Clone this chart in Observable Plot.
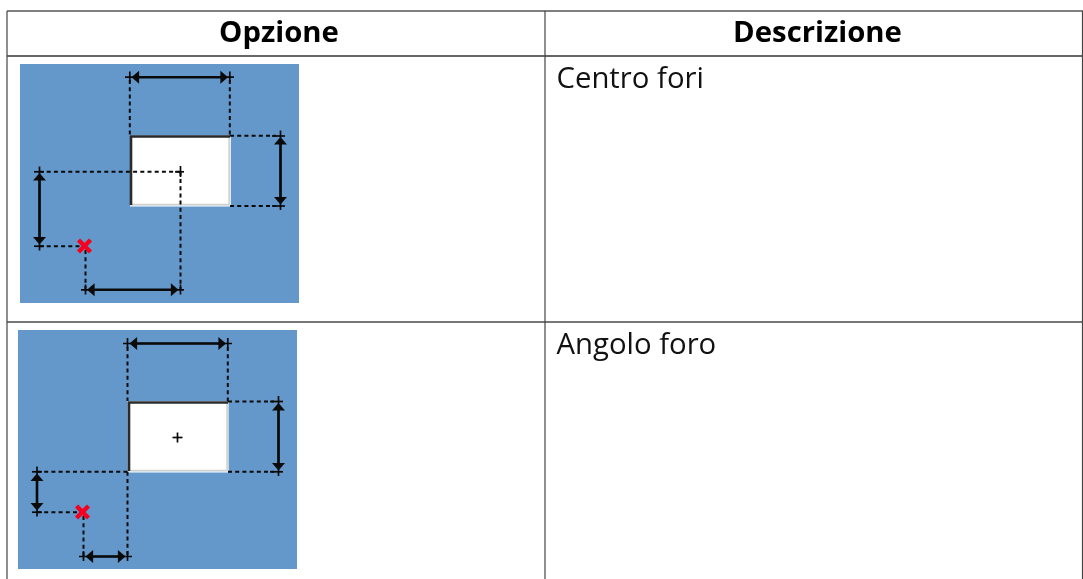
<!DOCTYPE html>
<html>
<head>
<meta charset="utf-8">
<script src="https://cdn.jsdelivr.net/npm/d3@7"></script>
<script src="https://cdn.jsdelivr.net/npm/@observablehq/plot@0.6"></script>
<style>
html,body{margin:0;padding:0;background:#fff}
svg{display:block}
svg g[aria-label="link"], svg g[aria-label="dot"]{filter:blur(0.3px)}
</style>
</head>
<body>
<div id="chart"></div>
<script>
// Table
const headers = [{label:"Opzione", x:278.5, y:32},{label:"Descrizione", x:817, y:32}];
const descriptions = [{label:"Centro fori", x:556, y:78},{label:"Angolo foro", x:556, y:344}];
const tableRows = [{y:11,c:"#555",w:1.3},{y:56,c:"#333",w:1.3},{y:322,c:"#777",w:1.8}];
const tableCols = [{x:7},{x:545},{x:1082.5}];
// Blue panels and white holes
const panels = [[20,64,299,303],[18,330,297,569]];
const holes = [[130,135.5,229.5,205.5],[127.7,401,227.2,471.5]];
// Hole shaded edges
const darkEdges = [[130,136.5,230,136.5],[131,136,131,205],[128,402.5,228,402.5],[129,402,129,471]];
const greyEdges = [[229,137,229,204.5],[131,204.4,229,204.4],[227,402,227,470.5],[129,470.4,227,470.4]];
const whiteEdges = [[130,206,230.3,206],[230.2,136,230.2,206],[127.7,472,228,472],[228,402,228,472]];
// Dashed leaders
const leaders = [
  [129.8,80,129.8,135],[229.8,80,229.8,135],[230,135.8,276,135.8],[230,206,276,206],
  [39.5,171.8,180.5,171.8],[180.5,171.8,180.5,289],[39.5,246.2,80,246.2],[85.5,250,85.5,289],
  [127.5,347,127.5,401],[227.8,347,227.8,401],[228,401.5,274,401.5],[228,471.8,274,471.8],
  [37,471.8,127.5,471.8],[127.5,471.8,127.5,556],[37,512.2,78,512.2],[83.5,516,83.5,556]
];
// Heavy dimension lines
const dimensions = [
  [134,77.2,226,77.2],[280.5,140,280.5,201],[39.5,176,39.5,241],[90,289.8,175,289.8],
  [132,343.5,222,343.5],[278.5,406,278.5,467],[37,476,37,507],[88,556.5,122,556.5]
];
// Thin ticks and crosses
const ticks = [
  [125,77.2,234,77.2],[129.8,71.5,129.8,82],[229.8,71.5,229.8,82],
  [280.5,130.5,280.5,210],[272,136,285,136],[272,206,285,206],
  [39.5,166.5,39.5,250.5],[34,171.8,44,171.8],[34,246.2,44,246.2],
  [81,289.8,184,289.8],[85.5,284.5,85.5,294.5],[180.5,284.5,180.5,294.5],
  [175,171.8,184,171.8],[180.5,166,180.5,177],
  [123,343.5,232,343.5],[127.5,338,127.5,348.5],[227.8,338,227.8,348.5],
  [278.5,396,278.5,476],[270,401.5,283,401.5],[270,471.8,283,471.8],
  [37,466.5,37,516.5],[32,471.8,42,471.8],[32,512.2,42,512.2],
  [79,556.5,132,556.5],[83.5,551,83.5,561],[127.5,551,127.5,561],
  [172.5,437.5,182.5,437.5],[177.5,432.5,177.5,442.5]
];
// Arrowheads: x, y of tip and rotation
const arrows = [
  [131.5,77.2,270],[228,77.2,90],[280.5,137,0],[280.5,204.5,180],
  [39.5,173,0],[39.5,244.5,180],[87,289.8,270],[178.5,289.8,90],
  [129.5,343.5,270],[226,343.5,90],[278.5,403,0],[278.5,470.5,180],
  [37,473.5,0],[37,510.5,180],[85.5,556.5,270],[125.5,556.5,90]
];
const markers = [[84.5,246],[82.5,512]];

const seg = a => ({x1:a[0],y1:a[1],x2:a[2],y2:a[3]});
const arrowHead = {draw(c){c.moveTo(0,0);c.lineTo(6.5,7.6);c.lineTo(-6.5,7.6);c.closePath();}};
const link = (rows,o) => Plot.link(rows.map(seg),{x1:"x1",y1:"y1",x2:"x2",y2:"y2",dx:-0.5,dy:-0.5,...o});

const chart = Plot.plot({
  width:1083,height:579,margin:0,
  x:{type:"identity",axis:null},
  y:{type:"identity",axis:null},
  marks:[
    Plot.rect(panels.map(seg),{x1:"x1",y1:"y1",x2:"x2",y2:"y2",fill:"#6498cb"}),
    Plot.rect(holes.map(seg),{x1:"x1",y1:"y1",x2:"x2",y2:"y2",fill:"#fff"}),
    link(whiteEdges,{stroke:"#fff",strokeWidth:1.2}),
    link(greyEdges,{stroke:"#d4d0c8",strokeWidth:1.4}),
    link(darkEdges,{stroke:"#2a2a2a",strokeWidth:2.6}),
    link(leaders,{stroke:"#0a0a0a",strokeWidth:2,strokeDasharray:"4,3.2"}),
    link(ticks,{stroke:"#0a0a0a",strokeWidth:1.7}),
    link(dimensions,{stroke:"#0a0a0a",strokeWidth:2.6}),
    Plot.dot(arrows,{x:d=>d[0],y:d=>d[1],rotate:d=>d[2],symbol:arrowHead,r:5,dx:-0.5,dy:-0.5,fill:"#0a0a0a",stroke:"none"}),
    Plot.dot(markers,{x:d=>d[0],y:d=>d[1],symbol:"times",r:5.5,dx:-0.5,dy:-0.5,stroke:"#f5001e",strokeWidth:4.4}),
    Plot.ruleY(tableRows,{y:"y",x1:7,x2:1083,dy:-0.5,stroke:"c",strokeWidth:"w"}),
    Plot.ruleX(tableCols,{x:"x",y1:11,y2:579,dx:-0.5,stroke:"#444",strokeWidth:1.2}),
    Plot.text(headers,{x:"x",y:"y",text:"label",textAnchor:"middle",fontFamily:"Open Sans",fontWeight:700,fontSize:29.3,fill:"#000"}),
    Plot.text(descriptions,{x:"x",y:"y",text:"label",textAnchor:"start",fontFamily:"Open Sans",fontSize:29.3,fill:"#111"})
  ]
});
document.getElementById("chart").append(chart);
</script>
</body>
</html>
